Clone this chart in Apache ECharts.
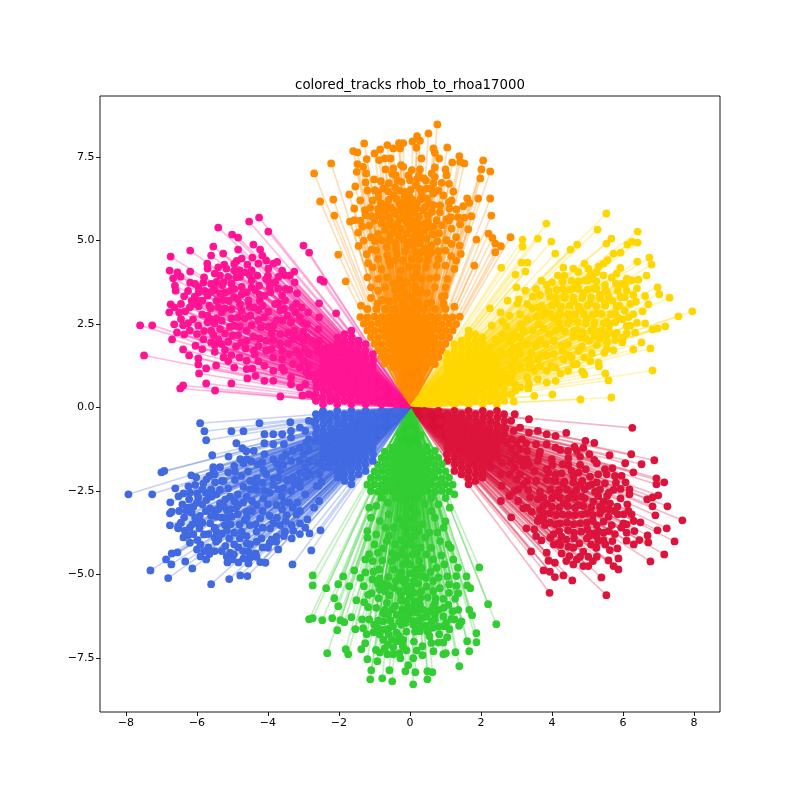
<!DOCTYPE html>
<html><head><meta charset="utf-8">
<script src="https://cdn.jsdelivr.net/npm/echarts@6/dist/echarts.min.js"></script>
<style>html,body{margin:0;padding:0;background:#fff}#c{width:800px;height:800px}</style></head>
<body><div id="c"></div>
<script>
const titleText='colored_tracks rhob_to_rhoa17000';
const xTicks=[-8,-6,-4,-2,0,2,4,6,8];
const yTicks=[-7.5,-5,-2.5,0,2.5,5,7.5];
const origin=[0,0];
const orangePts=[[.77,8.48],[.52,8.21],[.2,8.13],[.28,7.99],[.07,7.97],[-.19,7.92],[-.31,7.92],[-.64,7.86],[-1.29,7.91],[-1.6,7.68],[-1.48,7.64],[-.84,7.73],[-1,7.61],[-.47,7.76],[-.28,7.76],[.18,7.78],[1.05,7.79],[.66,7.76],[.7,7.63],[.82,7.46],[1.39,7.53],[.32,7.46],[2.06,7.4],[1.19,7.34],[1.41,7.36],[1.53,7.31],[2.01,7.13],[2.26,7.07],[1.98,6.86],[-2.22,7.31],[-2.7,7.01],[-1.22,7.44],[-.87,7.41],[-.71,7.46],[-.55,7.46],[-1.48,7.29],[-1.5,7.06],[-1.32,7.21],[-1.24,7.01],[-.69,7.13],[-.47,7.16],[-.25,7.26],[-.19,7.21],[-.4,6.96],[.05,7.11],[.28,7.13],[.7,7.19],[.61,7.01],[1,7.13],[1.03,6.96],[.39,6.86],[.7,6.91],[-1.25,6.74],[-1.01,6.83],[-.82,6.78],[-1.54,6.62],[-.24,6.76],[0,6.81],[.17,6.66],[.66,6.71],[.89,6.73],[1.22,6.47],[.94,6.35],[.47,6.56],[.33,6.43],[-1.71,6.38],[-.99,6.51],[-.75,6.56],[-.89,6.31],[-.42,6.59],[-.14,6.46],[-.47,6.36],[0,6.31],[.47,6.26],[.66,6.41],[1.17,6.2],[1.61,6.26],[1.67,6.13],[1.92,6.26],[2.26,6.26],[-2.16,6.23],[-2.53,6.17],[-1.57,5.96],[-2.13,5.75],[-1.27,5.91],[-.68,6.06],[-.19,6.16],[-.28,5.91],[0,6.01],[.19,6.11],[.37,5.91],[.66,6.06],[1.11,5.96],[1.31,5.93],[1.5,6.03],[2.29,5.75],[1.73,5.73],[1.53,5.69],[-1.69,5.57],[-1.57,5.61],[-1.25,5.76],[-1.08,5.73],[-.89,5.76],[-.61,5.71],[-.28,5.66],[0,5.71],[.42,5.51],[.75,5.61],[1.03,5.64],[.89,5.46],[-.8,5.51],[-1.34,5.42],[-1.46,5.24],[-.47,5.41],[0,5.36],[.26,5.29],[1.17,5.36],[1.41,5.49],[1.64,5.34],[2.21,5.21],[.64,5.19],[-.56,5.16],[-.99,4.99],[-.8,5.01],[-.42,4.93],[-.19,5.03],[.09,4.86],[.47,5.06],[.77,4.98],[1.03,5.01],[1.17,4.9],[1.87,5.03],[2.32,5.08],[2.4,4.91],[2.56,4.83],[2.83,5.1],[-1.45,4.84],[-1.08,4.73],[-1.22,4.59],[-.66,4.8],[-.14,4.69],[.14,4.66],[.42,4.76],[.8,4.68],[.52,4.56],[2.4,4.65],[1.43,4.6],[1.16,4.53],[-2.02,4.58],[-.64,4.56],[-.38,4.61],[-1.18,4.32],[-.42,4.41],[.26,4.44],[-.56,4.25],[-.02,4.22],[1,4.25],[1.81,4.25],[-1.81,3.78],[.19,4],[.33,3.87],[.56,3.87],[-.47,3.72],[.14,3.62],[.49,3.44],[-.42,3.52],[-.78,3.22],[-.38,3.27],[.49,3.12],[.19,3.44],[-.12,6.05],[.12,5.85],[-.12,5.6],[.1,5.55],[-.3,6.12],[-.05,6.2],[.25,5.72],[-.42,5.8],[-.55,6],[.5,5.75],[-.1,5.2],[.12,5.1],[-.02,4.95],[.1,3.9],[-.1,3.75],[.02,3.3],[.25,3.1],[-.2,3.05]];
const orangeBlob=[[-1.05,6.2],[-.82,6.12],[-.6,6.22],[-.38,6.25],[-.16,6.3],[.08,6.22],[.3,6.24],[.52,6.12],[-1.12,5.98],[-.9,5.95],[-.7,5.88],[-.48,5.92],[-.26,5.98],[-.05,5.88],[.18,5.98],[.42,6],[.62,5.86],[.84,5.85],[-1,5.6],[-.78,5.66],[-.56,5.6],[-.36,5.5],[-.17,5.78],[.05,5.62],[.25,5.5],[.5,5.55],[.66,5.42],[1.1,5.6],[-.7,5.32],[-.48,5.26],[-.26,5.35],[-.06,5.5],[.16,5.28],[.4,5.3],[.56,5.4],[.82,5.22],[-.9,5.2],[-.32,5.14],[-.08,4.86],[.28,4.92],[.6,4.86],[-.9,6.45],[-.62,6.48],[-.3,6.5],[.02,6.52],[.28,6.55],[.6,6.55],[.8,6.5],[-.6,6.72],[-.35,6.8],[.45,6.8],[.25,6.95]];
const orangeExtra=[[-1.1,3.6],[-.9,3.5],[-.7,3.6],[-.25,3.6],[.7,3.6],[1,3.6],[-1.2,3.9],[-.9,3.85],[-.65,3.9],[-.3,3.85],[.75,3.9],[1.05,3.85],[-1.05,4.2],[-.8,4.15],[-.25,4.1],[.2,4.2],[.45,4.2],[.75,4.25],[1.25,4.15],[-.9,4.45],[-.6,4.4],[-.2,4.4],[.05,4.45],[.5,4.4],[.8,4.45],[1.3,4.4],[-.95,4.7],[-.4,4.75],[.3,4.65],[.6,4.65],[1,4.7],[1.4,4.85],[-1.3,5],[-1.1,5.1],[-.6,5],[.3,5.1],[1.3,5.1],[-1.15,5.45],[-.65,5.45],[.15,5.4],[1.15,5.7],[1.35,5.7],[-.75,5.95],[.85,6.05],[1.1,6.15],[-1.4,5.6],[-1.4,6.2],[-1.2,6.5],[1.1,6.7],[-.5,7],[-.05,6.95],[.2,6.85],[-1.2,2.95],[-.95,2.95],[-.7,2.95],[-.45,2.95],[-.1,2.95],[.1,2.95],[.4,2.95],[.7,2.95],[1,2.95]];
const orangeCore=[[-.71,1.32],[-.5,1.3],[-.3,1.33],[-.1,1.31],[.1,1.3],[.31,1.32],[.5,1.31],[.7,1.3],[-.8,1.51],[-.6,1.5],[-.41,1.52],[-.2,1.5],[0,1.51],[.2,1.5],[.4,1.52],[.6,1.5],[.8,1.51],[-.9,1.71],[-.7,1.7],[-.5,1.72],[-.3,1.7],[-.1,1.71],[.1,1.7],[.31,1.72],[.5,1.7],[.7,1.71],[.9,1.7],[-1,1.91],[-.8,1.9],[-.6,1.92],[-.4,1.9],[-.2,1.91],[0,1.9],[.2,1.92],[.4,1.9],[.6,1.91],[.8,1.9],[1,1.91],[-1.1,2.11],[-.9,2.1],[-.7,2.12],[-.5,2.1],[-.3,2.11],[-.1,2.1],[.1,2.12],[.3,2.1],[.5,2.11],[.7,2.1],[.9,2.12],[1.1,2.1],[-1.2,2.31],[-1,2.3],[-.8,2.32],[-.6,2.3],[-.4,2.31],[-.2,2.3],[0,2.32],[.2,2.3],[.4,2.31],[.6,2.3],[.8,2.32],[1,2.3],[1.2,2.31],[-1.3,2.51],[-1.1,2.5],[-.9,2.52],[-.7,2.5],[-.5,2.51],[-.3,2.5],[-.1,2.52],[.1,2.5],[.3,2.51],[.5,2.5],[.7,2.52],[.9,2.5],[1.1,2.51],[1.3,2.5],[-1.4,2.71],[-1.2,2.7],[-1,2.72],[-.8,2.7],[-.6,2.71],[-.4,2.7],[-.2,2.72],[0,2.7],[.2,2.71],[.4,2.7],[.6,2.72],[.8,2.7],[1,2.71],[1.2,2.7],[1.4,2.72],[-1.38,3.05],[1.25,3.02],[.9,3.32]];
const orangeInner=[[-.08,.4],[.14,.45],[-.28,.8],[.02,.75],[.3,.82],[-.48,1.2],[-.2,1.15],[.1,1.22],[.44,1.18],[-.72,1.6],[.72,1.55],[-.92,3.12],[-.58,3.18],[-.2,3.15],[.2,3.18],[.6,3.15],[.95,3.1],[-.15,3.4],[.3,3.5],[-1.1,3.28],[.98,3.35]];
const goldPts=[[5.53,5.81],[3.84,5.51],[5.28,5.33],[6.41,5.27],[3.17,5.03],[3.6,5.06],[3.98,4.97],[5.67,5.06],[5.53,4.91],[4.71,4.88],[4.52,4.73],[3.17,4.82],[4.09,4.61],[6.12,4.88],[6.25,4.97],[6.41,4.94],[5.73,4.61],[5.93,4.64],[6.74,4.49],[6.8,4.28],[6.4,4.37],[5.56,4.41],[2.57,4.19],[3.14,4.34],[3.31,4.34],[3.25,4.07],[2.97,3.98],[4.32,4.19],[4.91,4.31],[4.6,4.16],[5.31,4.22],[5.45,4.31],[5.92,4.18],[5.82,4.01],[6.66,3.95],[4.16,3.95],[4.74,4.06],[5.02,4.16],[5.45,3.96],[5.68,3.89],[6.1,3.86],[6.43,3.83],[6.25,3.81],[3.7,3.8],[3.85,3.68],[4.3,3.77],[4.93,3.81],[5.07,3.96],[5.49,3.67],[5.8,3.71],[6.06,3.67],[6.39,3.57],[6.97,3.6],[7.02,3.39],[7.31,3.29],[3.25,3.5],[4.6,3.57],[4.13,3.52],[5.17,3.57],[4.88,3.42],[5.35,3.37],[3.46,3.32],[3.66,3.37],[3.94,3.32],[4.37,3.32],[5.93,3.31],[6.29,3.37],[6.62,3.34],[3.06,3.24],[3.03,3.11],[4.13,3.12],[4.6,3.17],[5.07,3.12],[5.49,3.12],[5.82,3.02],[6.36,3.17],[6.71,3.09],[3.45,2.97],[3.8,2.87],[4.23,2.82],[4.79,2.92],[5.26,2.82],[5.77,2.82],[6.29,2.79],[6.55,2.88],[7.95,2.88],[7.56,2.73],[2.55,2.85],[3.1,2.79],[3.57,2.72],[4.04,2.67],[4.51,2.62],[4.98,2.67],[5.54,2.57],[5.98,2.64],[6.39,2.54],[6.62,2.52],[7.19,2.43],[6.97,2.37],[6.83,2.34],[2.61,2.57],[2.72,2.42],[3.12,2.49],[3.76,2.37],[4.23,2.37],[4.7,2.32],[5.16,2.37],[5.63,2.49],[6.1,2.44],[5.82,2.24],[6.1,2.22],[6.34,2.24],[4.6,2.12],[4.95,2.07],[5.35,2.07],[5.54,2.14],[5.78,2.02],[5.98,1.95],[6.52,1.95],[6.29,1.74],[6.77,1.77],[3.66,2.02],[4.27,1.85],[4.84,1.82],[5.26,1.87],[5.47,1.64],[5.73,1.72],[5.54,1.75],[5.12,1.62],[4.48,1.57],[4.91,1.5],[5.08,1.39],[4.32,1.44],[3.71,1.57],[5.31,1.34],[5.32,1.23],[4.6,1.29],[3.38,1.32],[3.66,1.24],[3.98,1.24],[3.36,1.19],[4.85,1.08],[4.91,.99],[5.5,1.02],[4.24,1.02],[5.59,.81],[6.83,1.11],[3.33,.57],[2.97,.51],[4.01,.39],[4.8,.24],[5.67,.3],[2.6,.33],[2.37,.33],[2.77,.77],[2.25,2.97]];
const goldBlob=[[4.1,2.3],[4.36,2.28],[4.62,2.3],[4.86,2.26],[5.1,2.3],[5.36,2.28],[4.2,2.55],[4.44,2.53],[4.72,2.56],[4.95,2.52],[5.2,2.55],[5.45,2.52],[3.95,2.8],[4.18,2.78],[4.45,2.8],[4.65,2.78],[4.9,2.8],[5.15,2.78],[5.4,2.8],[5.65,2.78],[4,3.05],[4.25,3.03],[4.5,3.05],[4.75,3.03],[5,3.05],[5.25,3.03],[5.5,3.05],[4.1,3.3],[4.35,3.28],[4.6,3.3],[4.85,3.28],[5.1,3.3],[5.35,3.28],[5.6,3.3],[4.3,3.55],[4.5,3.53],[4.75,3.55],[5,3.53],[5.25,3.55],[5.5,3.53],[4.55,3.8],[4.75,3.78],[5,3.8],[5.25,3.78],[3.45,2.32],[3.3,1.9],[3.62,2.5],[3.1,2.1],[3.42,1.62],[3.82,1.9],[3.92,2.2],[3.5,1.1],[3.75,2.75],[4.05,1.6],[3.7,3.05],[5.6,2.3],[5.78,2.55],[5.9,3.05],[6.05,2.9],[5.85,3.5],[6,2.1]];
const goldExtra=[[2.85,.4],[2.85,.9],[2.85,1.25],[2.85,1.6],[2.8,2],[3.1,.6],[3.1,1.2],[3.1,1.6],[3.1,1.85],[3.35,.7],[3.35,1.45],[3.55,1.85],[3.2,2.3],[3.6,1.45],[3.85,1.1],[3.85,1.55],[3.85,.75],[4.1,1.2],[4.1,.8],[4.05,2],[4.3,1.7],[4.55,1.5],[4.45,1.9],[4.75,1.7],[4.8,2.1],[5.05,2],[5.2,2.15],[4.45,1.1],[4.7,1.3],[3.3,2.65],[3.6,3],[3.3,3.1],[3.55,3.55],[3.9,3.5],[4,3.75],[4.35,3.95],[5.15,3.85],[5.25,4.05],[5.55,3.45],[5.7,3.2],[5.95,3.7],[6.1,3.5],[6.2,3.1],[6.05,3.3],[6.15,2.7],[6.2,2.45],[5.85,2.7],[5.75,2.2],[5.55,1.95],[5.4,2.3],[2.8,2.75],[2.75,3.2],[3,3.6]];
const goldCore=[[1.05,.2],[1.06,.4],[1.04,.6],[1.05,.8],[1.06,1],[1.05,1.2],[1.04,1.4],[1.05,1.6],[1.25,.1],[1.26,.3],[1.24,.5],[1.25,.7],[1.26,.9],[1.25,1.1],[1.24,1.3],[1.25,1.5],[1.26,1.7],[1.25,1.9],[1.45,.2],[1.46,.4],[1.44,.6],[1.45,.8],[1.46,1],[1.45,1.2],[1.44,1.4],[1.45,1.6],[1.46,1.8],[1.45,2],[1.65,.1],[1.66,.3],[1.64,.5],[1.65,.7],[1.66,.9],[1.65,1.1],[1.64,1.3],[1.65,1.5],[1.66,1.7],[1.65,1.9],[1.64,2.1],[1.65,2.3],[1.85,.2],[1.86,.4],[1.84,.6],[1.85,.8],[1.86,1],[1.85,1.2],[1.84,1.4],[1.85,1.6],[1.86,1.8],[1.85,2],[1.84,2.2],[2.05,.1],[2.06,.3],[2.04,.5],[2.05,.7],[2.06,.9],[2.05,1.1],[2.04,1.3],[2.05,1.5],[2.06,1.7],[2.05,1.9],[2.04,2.1],[2.25,.2],[2.26,.4],[2.24,.6],[2.25,.8],[2.26,1],[2.25,1.2],[2.24,1.4],[2.25,1.6],[2.26,1.8],[2.45,.1],[2.46,.3],[2.44,.5],[2.45,.7],[2.46,.9],[2.45,1.1],[2.44,1.3],[2.45,1.5],[2.65,.2],[2.66,.4],[2.64,.6],[2.65,.8],[2.66,1]];
const goldInner=[[.4,.1],[.45,.4],[.8,.1],[.82,.4],[.85,.72],[2.58,1.65],[2.6,2.2],[2.92,.18],[2.95,.7],[2.9,1.05],[2.96,1.45],[2.92,1.8],[2.95,2.15],[3.3,.9],[3.5,.35],[3.6,.85],[2.4,2.05],[2.3,2.45]];
const crimsonPts=[[6.26,-.61],[4.4,-.76],[2.68,-.62],[4.94,-1],[5.19,-1.06],[3.15,-.95],[3.27,-1.07],[2.72,-1.07],[4.63,-1.18],[4.88,-1.21],[4.23,-1.27],[3.66,-1.32],[3.64,-1.42],[5.62,-1.43],[6.23,-1.4],[6.88,-1.58],[6.52,-1.7],[6.06,-1.67],[5.19,-1.57],[5.26,-1.67],[4.79,-1.47],[4.46,-1.52],[3.99,-1.55],[3.29,-1.55],[2.96,-1.42],[6.29,-1.94],[5.49,-1.85],[5.7,-1.82],[5.54,-2],[5.77,-2.05],[5.96,-2.05],[4.79,-1.72],[4.46,-1.72],[4.01,-1.72],[4.27,-1.97],[4.6,-2.07],[5.07,-2.07],[6.07,-2.24],[6.94,-2.12],[7.16,-2.24],[6.94,-2.3],[5.26,-2.24],[5.49,-2.27],[3.85,-2.17],[4.32,-2.27],[4.79,-2.32],[5.02,-2.35],[5.73,-2.47],[5.93,-2.44],[6.18,-2.45],[6.18,-2.6],[5.21,-2.52],[3.33,-2.47],[3.66,-2.52],[4.09,-2.57],[4.55,-2.57],[4.84,-2.67],[6.99,-2.63],[6.83,-2.69],[6.68,-2.75],[5.93,-2.72],[5.45,-2.82],[5.16,-2.82],[2.8,-2.65],[3.38,-2.69],[3.85,-2.87],[4.32,-2.87],[4.74,-2.92],[5.63,-2.87],[5.84,-2.97],[6.12,-2.9],[6.83,-2.96],[7.25,-2.96],[3.19,-3.02],[3.43,-3.12],[3.66,-3.07],[3.94,-3.17],[4.46,-3.22],[4.98,-3.17],[5.35,-3.17],[5.59,-3.27],[6.01,-3.2],[6.24,-3.2],[6.91,-3.23],[7.67,-3.38],[2.85,-3.29],[3.76,-3.37],[4.23,-3.47],[4.79,-3.47],[5.26,-3.52],[5.68,-3.52],[6.01,-3.47],[6.49,-3.44],[3.28,-3.62],[3.5,-3.65],[3.8,-3.52],[4.04,-3.79],[4.27,-3.87],[4.62,-3.75],[5.16,-3.77],[5.45,-3.75],[5.77,-3.79],[6.1,-3.75],[6.32,-3.7],[6.97,-3.68],[7.23,-3.62],[3.7,-3.98],[4.62,-3.92],[4.98,-3.92],[5.45,-3.97],[6.1,-3.99],[6.46,-3.97],[6.69,-3.83],[6.71,-4.04],[6.3,-4.1],[7.45,-4.01],[4.23,-4.12],[4.46,-4.17],[4.77,-4.07],[5.63,-4.27],[5.84,-4.22],[3.41,-4.31],[3.85,-4.35],[4.27,-4.37],[4.88,-4.32],[4.49,-4.45],[4.79,-4.47],[5.02,-4.47],[5.26,-4.47],[5.87,-4.52],[5.59,-4.58],[7.16,-4.4],[6.77,-4.61],[3.9,-4.59],[4.08,-4.65],[4.6,-4.7],[4.88,-4.75],[5.02,-4.75],[5.73,-4.75],[5.87,-4.85],[3.76,-4.88],[3.94,-4.92],[4.32,-5.03],[4.08,-5.08],[4.57,-5.18],[5.39,-5.09],[3.93,-5.55],[5.53,-5.62]];
const crimsonBlob=[[4.1,-2.2],[4.35,-2.22],[4.6,-2.25],[4.85,-2.2],[3.95,-2.45],[4.2,-2.47],[4.42,-2.45],[4.68,-2.47],[4.92,-2.45],[5.12,-2.3],[3.75,-2.7],[4,-2.72],[4.22,-2.7],[4.45,-2.72],[4.65,-2.7],[4.92,-2.72],[5.3,-2.65],[5.55,-2.65],[3.75,-2.95],[4,-2.97],[4.2,-3],[4.45,-2.95],[4.65,-3],[4.88,-2.95],[5.1,-3],[5.35,-2.97],[3.78,-3.18],[4.12,-3.22],[4.3,-3.2],[4.65,-3.22],[4.85,-3.2],[5.15,-3.22],[5.45,-3.05],[5.75,-3.1],[3.95,-3.45],[4.1,-3.5],[4.42,-3.45],[4.6,-3.5],[4.98,-3.45],[5.15,-3.4],[5.45,-3.42],[4.2,-3.7],[4.45,-3.68],[4.82,-3.72],[5,-3.65],[5.3,-3.7],[5.6,-3.7],[5.05,-3.85],[4.4,-3.95],[5.3,-4],[3.9,-1.95],[4.1,-2],[3.55,-2.2],[3.6,-2.75],[3.3,-2.2],[3.5,-1.9],[3.2,-1.75],[3.65,-3.3],[3.05,-2.45]];
const crimsonExtra=[[2.85,-.4],[2.85,-.95],[2.85,-1.25],[2.85,-1.6],[2.8,-2],[3.1,-.6],[3.1,-1.25],[3.1,-1.55],[3.1,-2],[3.35,-.75],[3.35,-1.7],[3.55,-1.1],[3.2,-2.3],[3.6,-1.6],[3.85,-1.1],[3.85,-1.85],[3.85,-.8],[4.1,-1.2],[4.1,-.85],[4.05,-2.2],[4.3,-1.7],[4.55,-1.9],[4.45,-1.3],[4.75,-1.95],[4.95,-1.85],[5.05,-1.4],[5.3,-2],[4.7,-1.3],[3.05,-2.8],[3.6,-3.4],[3.3,-3],[3.55,-3.85],[3.95,-3.9],[4.05,-4.1],[4.2,-4.05],[4.6,-4.2],[5.1,-4.1],[5.25,-4.2],[5.5,-4.1],[5.7,-4],[5.95,-3.6],[6.1,-3.5],[6.3,-3.4],[5.85,-3.2],[6.15,-3.1],[5.6,-2.55],[5.8,-2.25],[5.35,-2.45],[5.6,-3.05],[5.25,-3.85],[4.4,-4.6],[4.7,-4.55],[5.15,-4.6]];
const crimsonCore=[[1.05,-.2],[1.06,-.4],[1.04,-.6],[1.05,-.8],[1.06,-1],[1.05,-1.2],[1.04,-1.4],[1.05,-1.6],[1.25,-.1],[1.26,-.3],[1.24,-.5],[1.25,-.7],[1.26,-.9],[1.25,-1.1],[1.24,-1.3],[1.25,-1.5],[1.26,-1.7],[1.25,-1.9],[1.45,-.2],[1.46,-.4],[1.44,-.6],[1.45,-.8],[1.46,-1],[1.45,-1.2],[1.44,-1.4],[1.45,-1.6],[1.46,-1.8],[1.45,-2],[1.65,-.1],[1.66,-.3],[1.64,-.5],[1.65,-.7],[1.66,-.9],[1.65,-1.1],[1.64,-1.3],[1.65,-1.5],[1.66,-1.7],[1.65,-1.9],[1.64,-2.1],[1.65,-2.3],[1.85,-.2],[1.86,-.4],[1.84,-.6],[1.85,-.8],[1.86,-1],[1.85,-1.2],[1.84,-1.4],[1.85,-1.6],[1.86,-1.8],[1.85,-2],[1.84,-2.2],[2.05,-.1],[2.06,-.3],[2.04,-.5],[2.05,-.7],[2.06,-.9],[2.05,-1.1],[2.04,-1.3],[2.05,-1.5],[2.06,-1.7],[2.05,-1.9],[2.04,-2.1],[2.25,-.2],[2.26,-.4],[2.24,-.6],[2.25,-.8],[2.26,-1],[2.25,-1.2],[2.24,-1.4],[2.25,-1.6],[2.26,-1.8],[2.45,-.1],[2.46,-.3],[2.44,-.5],[2.45,-.7],[2.46,-.9],[2.45,-1.1],[2.44,-1.3],[2.45,-1.5],[2.65,-.2],[2.66,-.4],[2.64,-.6],[2.65,-.8],[2.66,-1]];
const crimsonInner=[[.4,-.1],[.45,-.4],[.8,-.1],[.84,-.42],[.82,-.74],[2.6,-1.66],[2.55,-2],[2.58,-2.35],[2.56,-2.8],[2.95,-.2],[2.92,-.7],[3,-1.05],[2.95,-1.8],[3,-2.15],[2.94,-2.5],[3.35,-.35],[3.3,-1.3],[3.6,-.7]];
const limePts=[[1,-3.41],[.77,-3.74],[-.59,-3.83],[.43,-3.89],[1.08,-4.1],[-.42,-4.1],[-.75,-4.22],[-.24,-3.97],[.3,-4.19],[-1.15,-4.39],[-1.26,-4.55],[-.78,-4.58],[-.49,-4.37],[-.52,-4.6],[-.38,-4.49],[.26,-4.58],[.88,-4.43],[.97,-4.7],[1.22,-4.55],[1.95,-4.79],[-2.74,-5.03],[-2.74,-5.33],[-1.88,-5.06],[-1.57,-4.88],[-1.26,-4.94],[-.87,-4.85],[-1.03,-4.92],[-1.06,-5.15],[-.85,-5.12],[-.61,-5.07],[-.24,-4.94],[0,-4.97],[.33,-4.82],[.58,-4.92],[.19,-5.02],[.8,-5.09],[1.05,-5.06],[1.59,-5.06],[-2.36,-5.41],[-2.02,-5.29],[-1.71,-5.35],[-.61,-5.34],[-.85,-5.46],[-1.08,-5.56],[-1.18,-5.61],[-.89,-5.71],[-.58,-5.62],[-.1,-5.36],[.23,-5.27],[.47,-5.36],[.84,-5.41],[1.31,-5.34],[1.61,-5.33],[1.7,-5.41],[1.36,-5.56],[-2.13,-5.71],[-1.51,-5.77],[-1.29,-5.83],[-1.18,-5.98],[-2.02,-5.95],[0,-5.66],[.5,-5.69],[.94,-5.73],[1.27,-5.73],[2.2,-5.89],[-.71,-6.06],[-.42,-5.94],[-.05,-5.96],[.28,-5.91],[.66,-5.96],[1.08,-5.91],[-.75,-6.16],[.37,-6.06],[.8,-6.06],[1.36,-6.06],[1.67,-6.06],[1.75,-6.22],[-2.84,-6.34],[-2.74,-6.31],[-2.47,-6.37],[-2.19,-6.31],[-1.96,-6.37],[-1.85,-6.43],[-1.65,-6.28],[-.89,-6.38],[-.05,-6.31],[-.38,-6.21],[.47,-6.26],[.94,-6.26],[1.17,-6.33],[1.45,-6.41],[2.43,-6.49],[-1.01,-6.51],[-.24,-6.51],[.09,-6.51],[.45,-6.53],[.8,-6.56],[1.11,-6.64],[1.38,-6.54],[-2.05,-6.67],[-1.54,-6.64],[-1.32,-6.61],[-1.03,-6.73],[-.61,-6.63],[-1.22,-6.79],[-.38,-6.74],[-.1,-6.71],[.14,-6.71],[.82,-6.79],[1.05,-6.88],[1.87,-6.76],[-.75,-6.96],[-.52,-6.94],[-.19,-6.96],[.11,-7.01],[.8,-7.04],[.94,-7.04],[1.61,-7],[1.87,-7.03],[-1.26,-7.06],[-1.81,-7.24],[-1.37,-7.24],[-.96,-7.26],[-.71,-7.21],[-.47,-7.18],[-.1,-7.27],[.19,-7.28],[.66,-7.3],[1.28,-7.33],[1.67,-7.3],[-2.33,-7.36],[-1.74,-7.39],[-.85,-7.34],[-.64,-7.39],[-.47,-7.39],[-.3,-7.36],[.35,-7.42],[.94,-7.39],[1.01,-7.36],[-1.2,-7.54],[-.92,-7.6],[-.27,-7.51],[.09,-7.51],[1.39,-7.75],[-.05,-7.72],[-1.09,-7.87],[-.58,-7.87],[-.13,-7.9],[.15,-7.93],[.49,-7.9],[.63,-7.93],[-1.12,-8.14],[-.78,-8.11],[-.5,-8.2],[.09,-8.29],[.49,-8.14],[-.1,-3.1],[.1,-3.35],[-.05,-3.6],[.12,-3.85],[-.1,-4.1],[.08,-4.4],[-.08,-4.65],[.1,-5.2],[-.08,-5.5],[.12,-5.8],[-.1,-6.1],[.1,-6.4],[-.25,-6.2],[.25,-6.6],[-.62,-2.85],[.42,-2.88],[-.17,-2.82],[.8,-2.9],[-.95,-2.95]];
const limeBlob=[[-.75,-6.4],[-.55,-6.38],[-.3,-6.42],[-.12,-6.45],[.25,-6.38],[.62,-6.4],[1.02,-6.45],[-.9,-6.6],[-.72,-6.65],[-.48,-6.55],[.28,-6.7],[.5,-6.72],[.65,-6.6],[.95,-6.55],[-.62,-6.2],[-.5,-6.05],[-.22,-6.05],[0,-6.15],[.2,-6.15],[.55,-6.1],[.7,-6.2],[1.2,-6.1],[-.25,-5.78],[-.1,-5.8],[.1,-5.98],[.3,-5.7],[.72,-5.72],[-.3,-5.5],[.12,-5.55],[.32,-5.5],[.65,-5.5],[-.12,-5.15],[.02,-4.7],[.16,-4.85],[-.12,-4.45],[.1,-4.15],[.02,-3.95],[-.1,-3.8],[.1,-3.6],[-.02,-3.35],[-.18,-3.55],[.2,-3.15],[-.08,-3],[-.22,-4.25],[.2,-4.35],[-.2,-5.2],[.35,-5.05],[-.4,-5.2],[-.72,-5.28],[.65,-5.2],[-.9,-5.28],[1.1,-5.3],[-.35,-7],[-.62,-7.1],[-.2,-7.15],[.35,-7.15]];
const limeExtra=[[-1.1,-3.3],[-.85,-3.4],[-.7,-3.6],[.35,-3.5],[.7,-3.3],[.95,-3.6],[-1.2,-3.7],[-.95,-3.8],[-.45,-3.6],[.25,-3.7],[.55,-3.75],[-1,-4.1],[-.65,-4],[.6,-4.2],[.85,-4],[-1.2,-3.9],[-.9,-4.35],[-.25,-4.4],[.45,-4.4],[.65,-4.55],[1.15,-4.2],[-1.05,-4.6],[-.2,-4.7],[.3,-4.8],[.75,-4.8],[1.35,-4.8],[-1.4,-5.1],[-.45,-4.85],[1.3,-5.05],[-.3,-5.05],[.45,-5.1],[-1.3,-5.35],[-.45,-5.4],[.05,-5.35],[1.1,-5.55],[-.7,-5.5],[.7,-5.85],[-.65,-5.85],[-.95,-6],[.95,-6],[-.25,-5.6],[.35,-6.3],[.2,-6.05],[-.2,-6.35],[.7,-6.35],[.35,-6.55],[-.6,-6.8],[-.3,-6.85],[-.85,-6.8],[.55,-6.85],[-1.15,-6.35],[-1.35,-6.35],[1.25,-6.35],[.6,-7.05]];
const limeCore=[[-.71,-1.32],[-.5,-1.3],[-.3,-1.33],[-.1,-1.31],[.1,-1.3],[.31,-1.32],[.5,-1.31],[.7,-1.3],[-.8,-1.51],[-.6,-1.5],[-.41,-1.52],[-.2,-1.5],[0,-1.51],[.2,-1.5],[.4,-1.52],[.6,-1.5],[.8,-1.51],[-.9,-1.71],[-.7,-1.7],[-.5,-1.72],[-.3,-1.7],[-.1,-1.71],[.1,-1.7],[.31,-1.72],[.5,-1.7],[.7,-1.71],[.9,-1.7],[-1,-1.91],[-.8,-1.9],[-.6,-1.92],[-.4,-1.9],[-.2,-1.91],[0,-1.9],[.2,-1.92],[.4,-1.9],[.6,-1.91],[.8,-1.9],[1,-1.91],[-1.1,-2.11],[-.9,-2.1],[-.7,-2.12],[-.5,-2.1],[-.3,-2.11],[-.1,-2.1],[.1,-2.12],[.3,-2.1],[.5,-2.11],[.7,-2.1],[.9,-2.12],[1.1,-2.1],[-1.2,-2.31],[-1,-2.3],[-.8,-2.32],[-.6,-2.3],[-.4,-2.31],[-.2,-2.3],[0,-2.32],[.2,-2.3],[.4,-2.31],[.6,-2.3],[.8,-2.32],[1,-2.3],[1.2,-2.31],[-1.1,-2.5],[-.9,-2.52],[-.7,-2.5],[-.5,-2.51],[-.3,-2.5],[-.1,-2.52],[.1,-2.5],[.3,-2.51],[.5,-2.5],[.7,-2.52],[.9,-2.5],[1.1,-2.51],[-.8,-2.7],[-.4,-2.7],[.2,-2.71],[.6,-2.72],[1,-2.71]];
const limeInner=[[-.1,-.42],[.14,-.4],[-.3,-.8],[.02,-.76],[.3,-.82],[-.5,-1.2],[-.2,-1.16],[.1,-1.22],[.46,-1.18],[1.25,-2.6],[-1.15,-3],[1.12,-3],[.6,-3.1],[-.6,-3.2],[-.3,-3.35]];
const royalPts=[[-5.91,-.47],[-5.79,-.71],[-5.74,-.98],[-4.24,-.47],[-3.37,-.44],[-2.71,-.44],[-2.5,-.2],[-2.39,-.2],[-5.03,-.71],[-4.69,-.71],[-4.89,-1.07],[-4.1,-1.07],[-4.72,-1.22],[-4.61,-1.31],[-3.5,-1.4],[-5.57,-1.43],[-5.11,-1.47],[-4.78,-1.55],[-4.69,-1.67],[-4.47,-1.61],[-4.16,-1.64],[-3.76,-1.67],[-3.57,-1.72],[-7,-1.94],[-6.92,-1.9],[-5.54,-1.79],[-5.35,-1.79],[-5.54,-1.94],[-5.12,-1.94],[-4.93,-1.92],[-4.56,-1.91],[-4.13,-1.87],[-3.66,-1.87],[-2.44,-1.77],[-6.16,-2.03],[-6.02,-2.09],[-5.73,-2.15],[-5.49,-2.24],[-4.93,-2.17],[-4.32,-2.12],[-3.85,-2.12],[-3.47,-2.17],[-2.91,-2.07],[-3.1,-2.22],[-2.49,-2.22],[-6.61,-2.42],[-6.24,-2.36],[-6.05,-2.32],[-5.82,-2.27],[-5.35,-2.47],[-5.12,-2.42],[-4.69,-2.37],[-4.32,-2.47],[-3.85,-2.32],[-3.57,-2.42],[-3.1,-2.37],[-2.63,-2.35],[-7.93,-2.6],[-7.26,-2.6],[-6.38,-2.57],[-6.52,-2.66],[-6,-2.57],[-5.96,-2.69],[-6.22,-2.75],[-5.59,-2.67],[-5.07,-2.67],[-4.6,-2.67],[-4.13,-2.72],[-3.61,-2.65],[-6.75,-2.84],[-6.41,-2.9],[-5.73,-2.77],[-5.35,-2.87],[-4.83,-2.92],[-4.32,-2.92],[-3.76,-2.92],[-3.17,-2.84],[-6.1,-2.97],[-5.63,-3.02],[-5.16,-3.07],[-4.6,-3.12],[-6.15,-3.15],[-6.76,-3.17],[-6.71,-3.12],[-6.36,-3.29],[-5.92,-3.25],[-5.45,-3.27],[-5.02,-3.27],[-4.22,-3.32],[-3.47,-3.23],[-4.65,-3.37],[-6.76,-3.53],[-6.53,-3.56],[-6.13,-3.5],[-5.93,-3.62],[-5.63,-3.47],[-5.21,-3.52],[-4.51,-3.52],[-3.85,-3.47],[-3.66,-3.52],[-3.33,-3.52],[-3.1,-3.47],[-2.89,-3.35],[-6.53,-3.62],[-6.34,-3.69],[-6.1,-3.79],[-5.68,-3.79],[-5.45,-3.72],[-5.16,-3.69],[-4.74,-3.72],[-4.32,-3.72],[-3.94,-3.62],[-3.52,-3.72],[-3.29,-3.69],[-3.1,-3.79],[-2.52,-3.68],[-2.83,-3.77],[-6.38,-3.89],[-6.24,-3.82],[-5.99,-3.97],[-5.09,-3.92],[-4.79,-3.92],[-4.18,-3.92],[-3.76,-3.87],[-3.33,-3.92],[-5.9,-4.1],[-5.46,-4.02],[-5.4,-3.95],[-4.6,-4.07],[-4.32,-4.02],[-3.77,-4.02],[-5.68,-4.19],[-4.83,-4.19],[-4.15,-4.19],[-3.71,-4.25],[-2.78,-4.28],[-6.71,-4.37],[-6.55,-4.34],[-5.65,-4.39],[-5.07,-4.35],[-4.55,-4.32],[-4.35,-4.37],[-6.87,-4.55],[-5.9,-4.46],[-5.16,-4.46],[-4.96,-4.4],[-4.69,-4.52],[-5.74,-4.55],[-4.32,-4.47],[-6.72,-4.7],[-6.33,-4.61],[-5.14,-4.64],[-4.83,-4.64],[-4.55,-4.67],[-4.22,-4.63],[-4.07,-4.65],[-3.31,-4.7],[-7.31,-4.88],[-6.13,-4.82],[-6.81,-5.11],[-5.6,-5.29],[-5.09,-5.14],[-4.78,-5.03],[-4.58,-5.05]];
const royalBlob=[[-5.5,-3.1],[-5.25,-2.95],[-5.05,-3.05],[-4.85,-3.2],[-5.3,-3.3],[-4.95,-2.8],[-5.45,-2.6],[-5.2,-2.75],[-5.85,-2.9],[-5.75,-3.1],[-5.6,-3.25],[-5.85,-3.45],[-5.5,-3.6],[-5.3,-3.78],[-5.05,-3.5],[-4.8,-3.5],[-4.6,-3.3],[-4.9,-3.02],[-4.7,-2.85],[-4.45,-2.8],[-4.45,-3.1],[-4.35,-3.5],[-4.15,-3.1],[-4,-2.9],[-4.1,-2.5],[-4.5,-2.45],[-4.85,-2.6],[-5.4,-3.05],[-5.15,-3.3],[-4.95,-3.75],[-4.6,-3.85],[-4.15,-3.6],[-3.95,-3.25],[-3.6,-3.05],[-3.7,-2.45],[-3.4,-2.85],[-3.35,-2.5],[-3.95,-2.55],[-4.15,-2.25],[-4.5,-2.2],[-5.6,-2.45],[-5.75,-2.55],[-6.25,-3],[-6.05,-3.3],[-6,-2.85],[-6.2,-3.6],[-5.8,-3.8],[-5.5,-3.9],[-4.95,-4.1],[-5.2,-4.15],[-4.5,-4.1],[-3.95,-4.05],[-3.5,-3.4],[-3.2,-3.2],[-3.3,-2.1],[-3.7,-2.1]];
const royalExtra=[[-2.85,-.4],[-2.85,-.95],[-2.85,-1.25],[-2.85,-1.6],[-2.8,-2],[-3.1,-.6],[-3.1,-1.2],[-3.1,-1.6],[-3.1,-1.95],[-3.35,-.7],[-3.35,-1.6],[-3.55,-1.1],[-3.25,-2.3],[-3.6,-1.5],[-3.85,-1.1],[-3.85,-1.55],[-3.85,-.8],[-4.1,-1.4],[-4.1,-.8],[-4.05,-2],[-4.3,-1.7],[-4.6,-1.55],[-4.4,-1.3],[-4.35,-2.3],[-4.75,-2.05],[-4.95,-1.75],[-5.25,-2.2],[-5.65,-2.05],[-2.95,-2.6],[-3.3,-3],[-3.55,-3.85],[-3.9,-3.95],[-3.1,-3.1],[-2.95,-3.6],[-4,-4.2],[-4.5,-4.5],[-4.7,-4.3],[-5,-4.55],[-5.3,-4.3],[-5.5,-4.3],[-5.8,-4.3],[-6,-4.25],[-6.2,-4.05],[-6.45,-3.45],[-6.5,-3.1],[-6.3,-3.1],[-6.2,-2.55],[-5.85,-2.45],[-6,-3.45],[-5.3,-2.2],[-5.5,-2],[-3.75,-3.3],[-3.55,-2.85],[-2.7,-3]];
const royalCore=[[-1.05,-.2],[-1.06,-.4],[-1.04,-.6],[-1.05,-.8],[-1.06,-1],[-1.05,-1.2],[-1.04,-1.4],[-1.05,-1.6],[-1.25,-.1],[-1.26,-.3],[-1.24,-.5],[-1.25,-.7],[-1.26,-.9],[-1.25,-1.1],[-1.24,-1.3],[-1.25,-1.5],[-1.26,-1.7],[-1.25,-1.9],[-1.45,-.2],[-1.46,-.4],[-1.44,-.6],[-1.45,-.8],[-1.46,-1],[-1.45,-1.2],[-1.44,-1.4],[-1.45,-1.6],[-1.46,-1.8],[-1.45,-2],[-1.65,-.1],[-1.66,-.3],[-1.64,-.5],[-1.65,-.7],[-1.66,-.9],[-1.65,-1.1],[-1.64,-1.3],[-1.65,-1.5],[-1.66,-1.7],[-1.65,-1.9],[-1.64,-2.1],[-1.65,-2.3],[-1.85,-.2],[-1.86,-.4],[-1.84,-.6],[-1.85,-.8],[-1.86,-1],[-1.85,-1.2],[-1.84,-1.4],[-1.85,-1.6],[-1.86,-1.8],[-1.85,-2],[-1.84,-2.2],[-2.05,-.1],[-2.06,-.3],[-2.04,-.5],[-2.05,-.7],[-2.06,-.9],[-2.05,-1.1],[-2.04,-1.3],[-2.05,-1.5],[-2.06,-1.7],[-2.05,-1.9],[-2.04,-2.1],[-2.25,-.2],[-2.26,-.4],[-2.24,-.6],[-2.25,-.8],[-2.26,-1],[-2.25,-1.2],[-2.24,-1.4],[-2.25,-1.6],[-2.26,-1.8],[-2.45,-.1],[-2.46,-.3],[-2.44,-.5],[-2.45,-.7],[-2.46,-.9],[-2.45,-1.1],[-2.44,-1.3],[-2.45,-1.5],[-2.65,-.2],[-2.66,-.4],[-2.64,-.6],[-2.65,-.8],[-2.66,-1]];
const royalInner=[[-.4,-.1],[-.45,-.4],[-.8,-.1],[-.84,-.42],[-.82,-.74],[-2.6,-1.66],[-2.55,-2],[-2.58,-2.35],[-2.56,-2.8],[-2.95,-.7],[-2.92,-1.05],[-3,-1.4],[-2.95,-1.8],[-3.35,-.9],[-3.3,-1.3],[-3.6,-.8]];
const pinkPts=[[-4.25,5.69],[-4.53,5.57],[-5.4,5.39],[-3.99,5.27],[-5.01,5.18],[-4.84,5.09],[-4.41,4.88],[-5.54,4.82],[-4.84,4.73],[-4.22,4.73],[-6.19,4.7],[-3,4.85],[-2.84,4.64],[-5.26,4.61],[-4.16,4.55],[-6.74,4.52],[-5.6,4.55],[-4.44,4.49],[-4.74,4.46],[-4.88,4.39],[-4.27,4.31],[-3.74,4.36],[-3.85,4.31],[-5.71,4.31],[-5.23,4.28],[-4.58,4.28],[-5.7,4.16],[-6.77,4.1],[-6.19,4.07],[-6.55,4.05],[-4.46,4.11],[-3.99,4.16],[-5.17,4.16],[-4.79,4.11],[-3.26,4.07],[-3.38,3.96],[-3.52,3.96],[-5.5,4.01],[-5.12,3.91],[-4.79,3.91],[-4.51,3.96],[-3.99,3.78],[-3.71,3.91],[-6.67,3.87],[-6.46,3.92],[-2.52,3.83],[-2.43,3.77],[-6.19,3.74],[-5.82,3.74],[-5.45,3.76],[-5.03,3.71],[-4.46,3.81],[-6.62,3.65],[-5.96,3.61],[-5.29,3.66],[-4.74,3.61],[-4.25,3.65],[-4.46,3.59],[-3.71,3.56],[-3.4,3.53],[-6.6,3.5],[-6.25,3.49],[-5.78,3.49],[-5.35,3.42],[-4.74,3.39],[-3.93,3.45],[-3.18,3.42],[-6.36,3.33],[-6.06,3.32],[-4.23,3.37],[-6.15,3.19],[-5.26,3.22],[-4.23,3.19],[-3.52,3.21],[-3.71,3.12],[-6.74,3.09],[-5.95,3.03],[-4.79,3.09],[-3.8,3.1],[-3.2,3.12],[-2.56,3.12],[-6.64,3],[-5.61,2.97],[-5.21,2.97],[-4.74,2.89],[-4.51,3.02],[-5.03,2.94],[-4.27,2.92],[-3.65,2.91],[-6.78,2.85],[-6.5,2.85],[-6.33,2.88],[-5.85,2.79],[-3.99,2.87],[-3.23,2.85],[-2.87,2.85],[-2.08,2.82],[-5.45,2.67],[-5.03,2.67],[-4.65,2.67],[-4.27,2.62],[-3.76,2.62],[-6.11,2.64],[-7.6,2.46],[-7.26,2.46],[-6.64,2.49],[-6.39,2.46],[-6.25,2.52],[-5.96,2.45],[-5.51,2.52],[-4.79,2.43],[-5.07,2.42],[-4.46,2.47],[-3.99,2.42],[-3.01,2.55],[-6.56,2.25],[-6.36,2.19],[-5.8,2.29],[-5.21,2.22],[-4.84,2.17],[-4.41,2.12],[-3.43,2.25],[-3.01,2.27],[-6.7,2.04],[-5.82,2.04],[-5.54,2.17],[-4.23,2.07],[-3.9,2.22],[-2.91,2.12],[-6.04,1.85],[-5.85,1.75],[-5.5,1.87],[-5.12,1.97],[-4.9,1.83],[-4.63,1.77],[-4.27,1.84],[-3.66,1.92],[-3.43,1.92],[-6.39,1.74],[-5.5,1.67],[-5.21,1.72],[-3.9,1.75],[-2.63,1.82],[-2.4,1.77],[-1.95,1.87],[-6.22,1.56],[-7.49,1.56],[-5.03,1.57],[-4.37,1.59],[-5.96,1.47],[-5.12,1.39],[-4.27,1.39],[-5.96,1.29],[-5.46,1.26],[-5.74,1.17],[-4.44,1.17],[-5.94,1.02],[-4.58,.87],[-5.74,.72],[-5.03,.72],[-6.39,.66],[-6.47,.57],[-5.49,.51],[-3.65,.33],[-3.03,.36],[-2.7,.33],[-2.21,.62],[-2.12,.27]];
const pinkBlob=[[-5.95,3.45],[-5.7,3.35],[-5.85,3.2],[-5.55,3.5],[-5.45,3.2],[-5.6,3.7],[-5.2,3.45],[-5.05,3.5],[-5.1,3.2],[-4.95,3.3],[-4.55,3.2],[-4.4,3],[-4.15,3.05],[-5.3,2.85],[-4.85,2.7],[-4.5,2.75],[-4.1,2.7],[-4.85,3.25],[-4.2,2.4],[-3.85,2.45],[-3.6,2.6],[-3.45,2.75],[-3.35,2.55],[-3.65,2.2],[-4.6,2.3],[-4.6,2],[-4.05,2],[-3.85,2.02],[-3.6,1.7],[-3.3,2.05],[-5.35,2.35],[-5.3,2.6],[-5.7,2.55],[-5.6,2.3],[-5.4,2.05],[-5,2.15],[-4.95,2.45],[-5.65,3.05],[-5.4,3],[-4.6,3.45],[-4.35,3.5],[-4.95,3.55],[-4.1,3.35],[-3.6,3.35],[-4.9,3.9],[-4.3,3.95],[-4.05,3.85],[-3.95,3.6],[-5.35,3.95],[-5.8,3.9],[-6.05,3.7],[-6.1,3.1],[-3.55,2.95],[-3.1,2.7],[-3,2],[-3.2,1.7]];
const pinkExtra=[[-2.85,.4],[-2.85,.95],[-2.85,1.25],[-2.85,1.6],[-2.75,2],[-3.1,.6],[-3.1,1.2],[-3.1,1.55],[-3.1,2.1],[-3.35,.7],[-3.4,1.6],[-3.55,1.1],[-3.25,2.3],[-3.6,1.45],[-3.85,1.1],[-3.85,1.5],[-3.85,.8],[-4.1,1.25],[-4.1,.8],[-4.05,1.7],[-4.35,.95],[-4.6,1.4],[-4.4,1.7],[-4.6,1.15],[-4.8,1.5],[-4.75,1.95],[-4.95,1.2],[-5.25,1.5],[-2.9,2.5],[-3.3,3],[-3.05,3],[-3.5,3.55],[-3.8,3.75],[-3.25,3.75],[-4,3.95],[-4.05,4.4],[-3.6,4.1],[-4.65,4.05],[-4.95,4.1],[-5.4,4.2],[-5.5,3.55],[-5.65,3.45],[-5.95,3.2],[-6.2,3],[-6.45,3.1],[-6.45,2.65],[-6.2,2.3],[-6,2.2],[-5.6,1.95],[-5.3,1.9],[-5.7,2.75],[-5.6,2.65],[-5.25,3.75],[-4.95,4.3]];
const pinkCore=[[-1.05,.2],[-1.06,.4],[-1.04,.6],[-1.05,.8],[-1.06,1],[-1.05,1.2],[-1.04,1.4],[-1.05,1.6],[-1.25,.1],[-1.26,.3],[-1.24,.5],[-1.25,.7],[-1.26,.9],[-1.25,1.1],[-1.24,1.3],[-1.25,1.5],[-1.26,1.7],[-1.25,1.9],[-1.45,.2],[-1.46,.4],[-1.44,.6],[-1.45,.8],[-1.46,1],[-1.45,1.2],[-1.44,1.4],[-1.45,1.6],[-1.46,1.8],[-1.45,2],[-1.65,.1],[-1.66,.3],[-1.64,.5],[-1.65,.7],[-1.66,.9],[-1.65,1.1],[-1.64,1.3],[-1.65,1.5],[-1.66,1.7],[-1.65,1.9],[-1.64,2.1],[-1.65,2.3],[-1.85,.2],[-1.86,.4],[-1.84,.6],[-1.85,.8],[-1.86,1],[-1.85,1.2],[-1.84,1.4],[-1.85,1.6],[-1.86,1.8],[-1.85,2],[-1.84,2.2],[-2.05,.1],[-2.06,.3],[-2.04,.5],[-2.05,.7],[-2.06,.9],[-2.05,1.1],[-2.04,1.3],[-2.05,1.5],[-2.06,1.7],[-2.05,1.9],[-2.04,2.1],[-2.25,.2],[-2.26,.4],[-2.24,.6],[-2.25,.8],[-2.26,1],[-2.25,1.2],[-2.24,1.4],[-2.25,1.6],[-2.26,1.8],[-2.45,.1],[-2.46,.3],[-2.44,.5],[-2.45,.7],[-2.46,.9],[-2.45,1.1],[-2.44,1.3],[-2.45,1.5],[-2.65,.2],[-2.66,.4],[-2.64,.6],[-2.65,.8],[-2.66,1]];
const pinkInner=[[-.4,.1],[-.45,.4],[-.8,.1],[-.84,.42],[-.82,.74],[-2.6,1.66],[-2.55,2],[-2.58,2.35],[-2.56,2.7],[-2.95,.7],[-2.92,1.05],[-3,1.4],[-2.95,1.75],[-3.35,.9],[-3.3,1.3],[-3.6,1.2]];
const groups=[
 {color:'#FF8C00',pts:[orangePts,orangeBlob,orangeExtra,orangeCore,orangeInner].flat()},
 {color:'#FFD700',pts:[goldPts,goldBlob,goldExtra,goldCore,goldInner].flat()},
 {color:'#DC143C',pts:[crimsonPts,crimsonBlob,crimsonExtra,crimsonCore,crimsonInner].flat()},
 {color:'#32CD32',pts:[limePts,limeBlob,limeExtra,limeCore,limeInner].flat()},
 {color:'#4169E1',pts:[royalPts,royalBlob,royalExtra,royalCore,royalInner].flat()},
 {color:'#FF1493',pts:[pinkPts,pinkBlob,pinkExtra,pinkCore,pinkInner].flat()}
];
const series=[];
groups.forEach(g=>series.push({type:'lines',coordinateSystem:'cartesian2d',silent:true,z:2,progressive:0,
  lineStyle:{color:g.color,width:1.6,opacity:0.3,curveness:0},
  data:g.pts.map(p=>({coords:[origin,p]}))}));
groups.forEach(g=>series.push({type:'scatter',silent:true,z:3,symbol:'circle',symbolSize:7.8,progressive:0,
  itemStyle:{color:g.color,opacity:1},data:g.pts}));
const fmt=(d)=>v=>(v<0?'\u2212':'')+Math.abs(v).toFixed(d);
const ax=(ticks,d,pos,min,max)=>({type:'value',position:pos,min,max,
  axisLine:{show:false,onZero:false},splitLine:{show:false},
  axisTick:{show:true,length:4,inside:false,lineStyle:{color:'#000',width:0.9},customValues:ticks},
  axisLabel:{show:true,color:'#000',fontSize:11,fontFamily:'DejaVu Sans',margin:5.5,customValues:ticks,formatter:fmt(d)}});
const chart=echarts.init(document.getElementById('c'),null,{renderer:'canvas'});
chart.setOption({animation:false,backgroundColor:'#fff',
  title:{text:titleText,left:405,top:74,textAlign:'center',textStyle:{fontFamily:'DejaVu Sans',fontSize:13.3,fontWeight:'normal',color:'#000'}},
  grid:{left:100,right:80,top:96,bottom:88,show:true,borderColor:'#000',borderWidth:0.9,backgroundColor:'#fff'},
  xAxis:ax(xTicks,0,'bottom',-8.73,8.73),
  yAxis:ax(yTicks,1,'left',-9.12,9.33),
  series});
</script></body></html>
